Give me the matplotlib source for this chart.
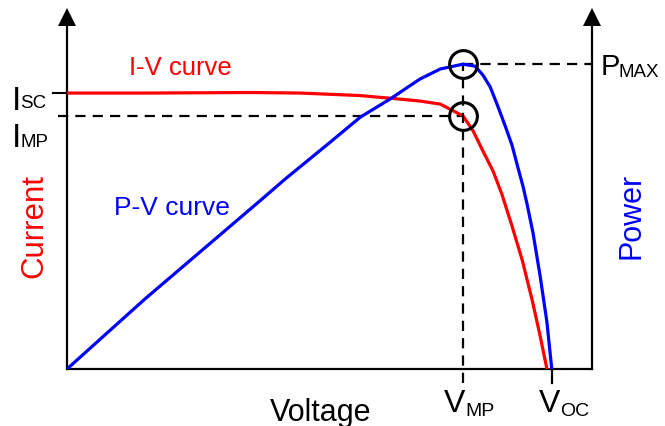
import matplotlib
matplotlib.use("Agg")
import matplotlib.pyplot as plt

plt.rcParams['font.family'] = ['Liberation Sans', 'DejaVu Sans']

# normalised units: voltage (V_OC = 1), current (I_SC = 1), power (P_MAX = 1)
iv_voltage = [0.000, 0.171, 0.378, 0.481, 0.604, 0.687, 0.728, 0.770, 0.794,
              0.817, 0.838, 0.858, 0.879, 0.897, 0.918, 0.939, 0.959, 0.976,
              0.990]
iv_current = [1.000, 1.000, 1.002, 1.000, 0.991, 0.978, 0.971, 0.960, 0.938,
              0.917, 0.862, 0.790, 0.717, 0.634, 0.518, 0.395, 0.254, 0.120,
              0.000]

pv_voltage = [0.000, 0.161, 0.402, 0.450, 0.543, 0.605, 0.666, 0.697, 0.728,
              0.770, 0.794, 0.817, 0.842, 0.858, 0.873, 0.887, 0.904, 0.918,
              0.930, 0.941, 0.949, 0.961, 0.976, 0.990, 1.000]
pv_power = [0.000, 0.230, 0.557, 0.623, 0.744, 0.826, 0.885, 0.918, 0.951,
            0.984, 0.992, 1.000, 0.993, 0.964, 0.925, 0.869, 0.797, 0.734,
            0.662, 0.597, 0.541, 0.449, 0.305, 0.154, 0.000]

V_MP, V_OC = 0.817, 1.000
I_SC, I_MP = 1.000, 0.917
P_MAX = 1.000

V_LIM, I_LIM, P_LIM = 1.083, 1.243, 1.125

W, H = 665, 427
fig = plt.figure(figsize=(W / 100, H / 100), dpi=100)
# axes box in pixels: x 67..592, y 27..370
ax = fig.add_axes([67 / W, (H - 370) / H, 525 / W, 343 / H])
ax2 = ax.twinx()

for a in (ax, ax2):
    a.set_xlim(0, V_LIM)
    a.set_xticks([])
    a.set_yticks([])
    a.patch.set_visible(False)
    for side in ('top', 'left', 'right', 'bottom'):
        a.spines[side].set_visible(False)
ax.set_ylim(0, I_LIM)
ax2.set_ylim(0, P_LIM)
for side in ('left', 'right', 'bottom'):
    ax.spines[side].set_visible(True)
    ax.spines[side].set_linewidth(1.6)

# arrow heads on the two vertical axes
for xa in (0, 1):
    ax.fill([xa - 9 / 525, xa + 9 / 525, xa], [1, 1, 1 + 18 / 343],
            transform=ax.transAxes, clip_on=False, color='black', lw=0)

xpx = V_LIM / 525
ipx = I_LIM / 343
ppx = P_LIM / 343
dash = (0, (4.6, 3.2))

ax.plot(iv_voltage, iv_current, color='#ff0000', lw=2.3, zorder=3)
ax2.plot(pv_voltage, pv_power, color='#0000ff', lw=2.3, zorder=3)

# guide lines and ticks
ax.plot([-14 * xpx, 0], [I_SC, I_SC], color='black', lw=1.5, clip_on=False)
ax.plot([-9 * xpx, V_MP], [I_MP, I_MP], color='black', lw=1.6, ls=dash, clip_on=False)
ax2.plot([V_MP, V_MP], [-14 * ppx, P_MAX], color='black', lw=1.6, ls=dash, clip_on=False)
ax2.plot([V_MP, V_LIM], [P_MAX, P_MAX], color='black', lw=1.6, ls=dash, clip_on=False)
ax.plot([V_OC, V_OC], [0, -14 * ipx], color='black', lw=1.6, clip_on=False)

ax.plot([V_MP], [I_MP], 'o', ms=20, mfc='none', mec='black', mew=2.2, zorder=4)
ax2.plot([V_MP], [P_MAX], 'o', ms=20, mfc='none', mec='black', mew=2.2, zorder=4)


def put(x, y, s, size, color='black', **kw):
    fig.text(x / W, 1 - y / H, s, fontsize=size, color=color, **kw)


put(12, 110, 'I', 24, va='baseline')
put(20, 108, 'SC', 13.5, va='baseline')
put(12, 147, 'I', 24, va='baseline')
put(20, 147, 'MP', 13.5, va='baseline')
put(601, 75, 'P', 21, va='baseline')
put(618, 77, 'MAX', 13.5, va='baseline')
put(444, 412, 'V', 23, va='baseline')
put(465, 416, 'MP', 14, va='baseline')
put(539, 412, 'V', 23, va='baseline')
put(560, 416, 'OC', 14, va='baseline')

put(321, 421, 'Voltage', 22, ha='center', va='baseline')
put(34, 226, 'Current', 22.5, color='#ff0000', rotation=90, ha='center', va='center')
put(631, 216, 'Power', 22, color='#0000ff', rotation=90, ha='center', va='center')
put(129, 75, 'I-V curve', 18.5, color='#ff0000', va='baseline')
put(114, 215, 'P-V curve', 19, color='#0000ff', va='baseline')

fig.savefig('out.png', dpi=100)
